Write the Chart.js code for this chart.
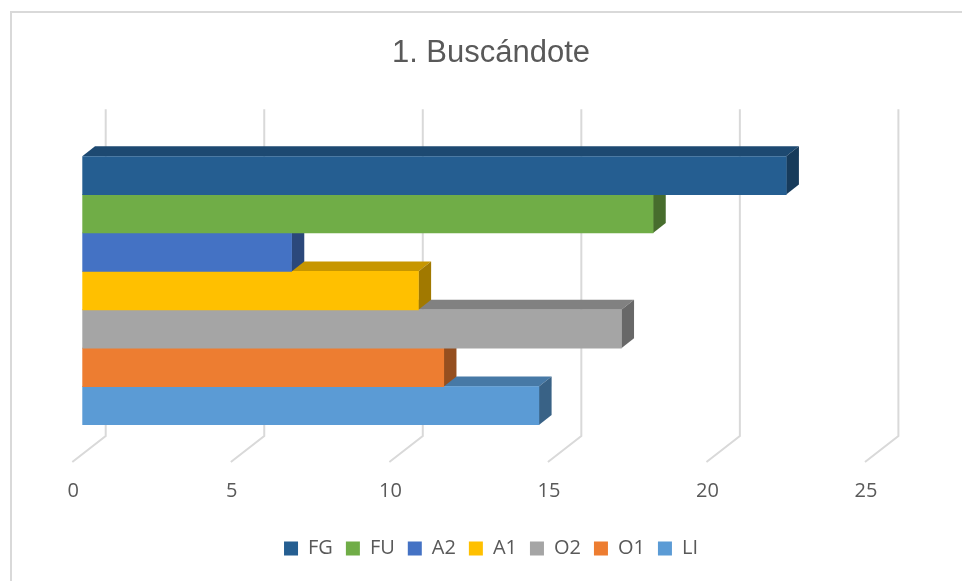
<!DOCTYPE html>
<html>
<head>
<meta charset="utf-8">
<script src="https://cdn.jsdelivr.net/npm/chart.js@4"></script>
<style>
html, body { margin: 0; padding: 0; background: #fff; }
#wrap { position: relative; width: 962px; height: 581px; overflow: hidden; }
#frame { position: absolute; left: 10px; top: 11px; width: 1000px; height: 600px;
  border-top: 2px solid #d9d9d9; border-left: 2px solid #d9d9d9; }
#chart { position: absolute; left: 0; top: 0; }
</style>
</head>
<body>
<div id="wrap">
  <div id="frame"></div>
  <canvas id="chart" width="962" height="581"></canvas>
</div>
<script>
// Chart data
const chartTitle = '1. Buscándote';
const categories = ['1. Buscándote'];
const seriesNames = ['FG', 'FU', 'A2', 'A1', 'O2', 'O1', 'LI'];
const seriesValues = [22.2, 18, 6.6, 10.6, 17, 11.4, 14.4];
const xTicks = [0, 5, 10, 15, 20, 25];

// Office palette, one per series
const seriesColors = ['#255e91', '#70ad47', '#4472c4', '#ffc000', '#a5a5a5', '#ed7d31', '#5b9bd5'];

// 3D depth of the bars and the walls
const BAR_DX = 12.7, BAR_DY = 10;
const BACK_DX = 23.4, FRONT_DX = -10;

function shade(hex, f) {
  const n = parseInt(hex.slice(1), 16);
  const r = Math.round(((n >> 16) & 255) * f);
  const g = Math.round(((n >> 8) & 255) * f);
  const b = Math.round((n & 255) * f);
  return `rgb(${r},${g},${b})`;
}

// draws perspective gridlines and the top/side faces of each bar
const depthPlugin = {
  id: 'depth',
  beforeDatasetsDraw(chart) {
    const xs = chart.scales.x, area = chart.chartArea, ctx = chart.ctx;
    ctx.save();
    ctx.strokeStyle = '#d9d9d9';
    ctx.lineWidth = 2;
    xs.ticks.forEach(t => {
      const px = xs.getPixelForValue(t.value);
      ctx.beginPath();
      ctx.moveTo(px + BACK_DX, area.top - 47);
      ctx.lineTo(px + BACK_DX, area.bottom + 11);
      ctx.lineTo(px + FRONT_DX, area.bottom + 37);
      ctx.stroke();
    });
    ctx.restore();
  },
  beforeDatasetDraw(chart, args) {
    const ctx = chart.ctx;
    const base = seriesColors[args.index];
    args.meta.data.forEach(bar => {
      const p = bar.getProps(['x', 'y', 'base', 'height'], true);
      const top = p.y - p.height / 2, bottom = p.y + p.height / 2;
      ctx.save();
      // top face
      ctx.fillStyle = shade(base, 0.78);
      ctx.beginPath();
      ctx.moveTo(p.base, top);
      ctx.lineTo(p.base + BAR_DX, top - BAR_DY);
      ctx.lineTo(p.x + BAR_DX, top - BAR_DY);
      ctx.lineTo(p.x, top);
      ctx.closePath();
      ctx.fill();
      // side face
      ctx.fillStyle = shade(base, 0.63);
      ctx.beginPath();
      ctx.moveTo(p.x, top);
      ctx.lineTo(p.x + BAR_DX, top - BAR_DY);
      ctx.lineTo(p.x + BAR_DX, bottom - BAR_DY);
      ctx.lineTo(p.x, bottom);
      ctx.closePath();
      ctx.fill();
      ctx.restore();
    });
  }
};

const datasets = seriesNames.map((name, i) => ({
  label: name,
  data: [seriesValues[i]],
  backgroundColor: seriesColors[i],
  borderWidth: 0,
  barPercentage: 1,
  categoryPercentage: 1
}));

new Chart(document.getElementById('chart').getContext('2d'), {
  type: 'bar',
  data: { labels: categories, datasets: datasets },
  plugins: [depthPlugin],
  options: {
    indexAxis: 'y',
    responsive: false,
    animation: false,
    layout: { padding: { top: 12, left: 82.3, right: 62.3, bottom: 12.5 } },
    scales: {
      x: {
        min: xTicks[0],
        max: xTicks[xTicks.length - 1],
        afterBuildTicks: (scale) => { scale.ticks = xTicks.map(v => ({ value: v })); },
        afterFit: (scale) => { scale.height = 100.5; },
        grid: { display: false, drawTicks: false },
        border: { display: false },
        ticks: {
          color: '#595959',
          font: { family: 'Open Sans', size: 20 },
          padding: 54,
          labelOffset: -9
        }
      },
      // invisible axis on the right, keeps room for the back wall
      y: {
        position: 'right',
        grid: { display: false, drawTicks: false },
        border: { display: false },
        ticks: { display: false },
        afterFit: (scale) => { scale.width = 24.7; }
      }
    },
    plugins: {
      title: {
        display: true,
        text: chartTitle,
        color: '#595959',
        font: { family: 'Liberation Sans', size: 31, weight: 'normal' },
        padding: { top: 23, bottom: 84 }
      },
      legend: {
        position: 'bottom',
        labels: {
          color: '#595959',
          font: { family: 'Open Sans', size: 20 },
          boxWidth: 14,
          boxHeight: 14,
          padding: 13
        }
      },
      tooltip: { enabled: false }
    }
  }
});
</script>
</body>
</html>
